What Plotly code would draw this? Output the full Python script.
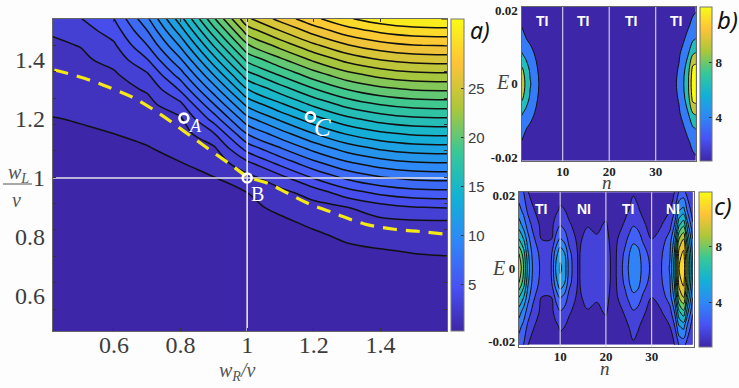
import numpy as np
import plotly.graph_objects as go

W, H = 739, 388
PARULA = [[0, "rgb(62,38,168)"], [1/7, "rgb(72,82,244)"], [2/7, "rgb(46,135,247)"], [3/7, "rgb(18,177,214)"],
          [4/7, "rgb(55,200,151)"], [5/7, "rgb(171,199,57)"], [6/7, "rgb(254,195,56)"], [1, "rgb(249,251,21)"]]

# panel a
wR = [0.417, 0.5, 0.6, 0.7, 0.8, 0.9, 1.0, 1.1, 1.2, 1.3, 1.4, 1.5, 1.6]
wL = [0.48, 0.6, 0.7, 0.75, 0.8, 0.85, 0.9, 0.95, 1.0, 1.05, 1.1, 1.15, 1.2, 1.25, 1.3, 1.35, 1.4, 1.45, 1.5, 1.54]
a_0417 = [.35,.4,.42,.45,.48,.52,.55,.6,.65,.72,.8,.88,.97,1.2,1.42,1.65,1.88,2.1,2.45,2.8]
a_0500 = [.38,.42,.45,.48,.5,.55,.6,.65,.7,.78,.85,.9,1.05,1.3,1.55,1.8,2.05,2.35,3,3.55]
a_0600 = [.38,.42,.45,.48,.52,.58,.62,.68,.75,.82,.9,1,1.25,1.5,1.8,2.1,2.7,3.4,4.2,4.9]
a_0700 = [.4,.43,.46,.5,.55,.6,.66,.72,.8,.88,.95,1.2,1.55,1.9,2.45,3.4,4.8,6.2,7.5,8.55]
a_0800 = [.4,.45,.5,.55,.6,.66,.72,.8,.88,.97,1.25,1.65,2.1,3.3,5.1,6.85,8.6,10.35,12.1,13.5]
a_0900 = [.4,.45,.5,.55,.6,.65,.72,.82,.95,1.45,2.05,3.5,5.48,7.47,9.46,11.45,13.44,15.43,17.42,19.02]
a_1000 = [.4,.45,.5,.55,.6,.68,.78,1,1.84,3.28,5.41,7.54,9.67,11.8,13.93,16.06,18.19,20.32,22.45,24.15]
a_1100 = [.4,.45,.5,.55,.65,.82,1.2,1.9,3.15,5.28,7.41,9.54,11.67,13.8,15.93,18.06,20.19,22.32,24.45,26.15]
a_1200 = [.4,.42,.5,.58,.8,1.2,1.82,2.85,4.98,7.11,9.24,11.37,13.5,15.63,17.76,19.89,22.02,24.15,26.28,27.98]
a_1300 = [.4,.42,.55,.78,1.15,1.72,2.27,4.3,6.43,8.56,10.69,12.82,14.95,17.08,19.21,21.34,23.47,25.6,27.73,29.43]
a_1400 = [.4,.42,.62,.9,1.42,1.95,3.07,5.2,7.33,9.46,11.59,13.72,15.85,17.98,20.11,22.24,24.37,26.5,28.63,30.33]
a_1500 = [.4,.42,.65,1.05,1.55,2.08,3.54,5.67,7.8,9.93,12.06,14.19,16.32,18.45,20.58,22.71,24.84,26.97,29.1,30.8]
a_1600 = [.4,.42,.68,1.13,1.6,2.12,3.66,5.79,7.92,10.05,12.18,14.31,16.44,18.57,20.7,22.83,24.96,27.09,29.22,30.92]
a_columns = [a_0417,a_0500,a_0600,a_0700,a_0800,a_0900,a_1000,a_1100,a_1200,a_1300,a_1400,a_1500,a_1600]
dash_wR = [.421,.511,.592,.662,.742,.812,.882,.952,1.002,1.062,1.122,1.182,1.262,1.352,1.442,1.523,1.6]
dash_wL = [1.366,1.338,1.304,1.27,1.214,1.157,1.10,1.044,1.004,.982,.948,.914,.88,.844,.826,.818,.809]
point_wR = [.81, 1.0, 1.19]
point_wL = [1.203, 1.0, 1.207]
a_x_ticks = [.6, .8, 1, 1.2, 1.4]
a_y_labels = [.6, .8, 1, 1.2, 1.4]
a_bar_ticks = [5, 10, 15, 20, 25]

# panel b: half grid in |E|, mirrored about E = 0
E_half = [0, .004, .008, .012, .016, .021]
b_n = [1,2,3,4,5,6,8,12,20,30,33,34,35,36,37,38,39]
b_col = [
 [10,8.8,5.6,3.6,2.05,1],[7.7,7,4.2,2.2,1.3,.9],[5.3,4.4,2.9,1.6,1,.9],[3.3,2.8,1.95,1.1,.9,.9],
 [1.8,1.5,1.2,.95,.9,.9],[1.1,1,.95,.9,.9,.9],[.9,.9,.9,.9,.9,.9],[.9,.9,.9,.9,.9,.9],[.9,.9,.9,.9,.9,.9],
 [.9,.9,.9,.9,.9,.9],[.9,.9,.9,.9,.9,.9],[1.6,1.4,1.1,.9,.9,.9],[2.5,2.2,1.7,1.2,.9,.9],[4.9,4.3,3,1.8,1.1,.9],
 [7.7,7,5,3,1.7,1],[13,12,8,4.8,2.7,1.3],[13.5,12.5,8.5,5.5,3.2,1.7]]

# panel c
c_n = [1,2,3,4,6,8,9,10,11,12,14,16,18,20,21,22,24,25,26,27,28,30,32,34,35,36,37,38,39]
c_col = [
 [9.5,8.5,6.5,5,3.8,3],[7.5,7,5.5,4,3.2,2.5],[5,4.6,3.8,3,2.2,1.5],[3.4,3.2,2.8,2.2,1.6,1.2],
 [2.2,2.1,1.45,1.2,1.05,.95],[2.4,2.2,1.45,1.2,1.05,.95],[4.5,4,2.7,1.8,1.3,1.1],[5.7,5.2,3.6,2.4,1.6,1.2],
 [5,4.5,3.1,2.1,1.5,1.1],[3,2.8,2.1,1.6,1.2,1],[1.35,1.35,1.25,1.1,.95,.9],[2.3,2.25,1.9,1.4,1.05,.9],
 [2.3,2.25,1.6,1.3,1.05,.9],[2.2,2.2,1.9,1.6,1.2,.95],[1.5,1.45,1.3,1.2,1,.9],[1.3,1.3,1.25,1.15,1.1,1],
 [2.8,2.6,2.1,1.55,1.2,1],[3.6,3.4,2.7,2,1.5,1.2],[4.4,4.1,3.2,2.4,1.8,1.4],[4.2,3.9,3,2.2,1.6,1.2],
 [3.2,3,2.4,1.7,1.3,1],[2.3,2.1,1.5,1.1,1,.9],[2.4,2.3,1.9,1.4,1.1,.9],[3.6,3.4,3,2.1,1.5,1.1],
 [6,5.6,4.8,3.5,2.4,1.5],[10.5,10,8.5,6.3,4.4,2.6],[11.3,10.8,9.5,7.2,4.8,2.8],[7.5,7.2,6,4.5,3,2],
 [4.5,4.2,3.5,2.6,2,1.5]]
small_x_ticks = [10, 20, 30]
small_y_ticks = [-.02, 0, .02]
small_bar_ticks = [4, 8]
b_labels = ["TI", "TI", "TI", "TI"]
b_label_n = [5.5, 14.4, 24.7, 34.4]
c_labels = ["TI", "NI", "TI", "NI"]
c_label_n = [5.8, 15.2, 24.8, 34.6]

def mirror(cols):
    m = np.array(cols, dtype=float).T
    return np.vstack([m[::-1], m[1:]])

E_full = [-e for e in E_half[::-1]] + E_half[1:]
INK = "#3c3c3c"
SERIF = "Liberation Serif"
fig = go.Figure()

def px_x(a, b): return [a / W, b / W]
def px_y(a, b): return [1 - b / H, 1 - a / H]

def contour(x, y, z, xa, ya, start, size, end, zmin, zmax, lw):
    fig.add_trace(go.Contour(x=x, y=y, z=z, xaxis=xa, yaxis=ya, colorscale=PARULA, zauto=False, zmin=zmin, zmax=zmax,
        autocontour=False, contours=dict(start=start, size=size, end=end, coloring="fill", showlines=True),
        line=dict(color="#111", width=lw, smoothing=1), showscale=False, hoverinfo="skip"))

def bar(xpx, ypx, w, cmin, cmax, ticks, fs, xa, ya, xv, yv):
    fig.add_trace(go.Scatter(x=[xv], y=[yv], xaxis=xa, yaxis=ya, mode="markers", hoverinfo="skip", showlegend=False,
        marker=dict(size=1, opacity=0, color=[cmin], cmin=cmin, cmax=cmax, colorscale=PARULA, showscale=True,
            colorbar=dict(x=xpx / W, xanchor="left", xpad=0, ypad=0, thickness=w, thicknessmode="pixels",
                y=1 - (ypx[0] + ypx[1]) / 2 / H, yanchor="middle", lenmode="fraction", len=(ypx[1] - ypx[0]) / H,
                tickvals=ticks, ticks="inside", ticklen=3, tickcolor="#333", outlinecolor="#777", outlinewidth=1,
                tickfont=fs))))

# panel a
contour(wR, wL, np.array(a_columns).T, "x", "y", 1.0, 1.3, 32, .3, 32.1, 1.5)
for xs, ys in (([1, 1], [.481, 1.539]), ([.417, 1.6], [1, 1])):
    fig.add_trace(go.Scatter(x=xs, y=ys, mode="lines", line=dict(color="#e4e4ee", width=1.6), showlegend=False, hoverinfo="skip"))
fig.add_trace(go.Scatter(x=dash_wR, y=dash_wL, mode="lines", line=dict(color="#f4e815", width=3.2, dash="14px,9px", shape="spline"),
                         showlegend=False, hoverinfo="skip"))
fig.add_trace(go.Scatter(x=point_wR, y=point_wL, mode="markers", showlegend=False, hoverinfo="skip",
                         marker=dict(symbol="circle-open", size=9, color="white", line=dict(width=2.6, color="white"))))
fig.add_trace(go.Scatter(x=[.417, 1.6], y=[1, 1], xaxis="x", yaxis="y4", mode="markers", marker=dict(size=1, opacity=0),
                         showlegend=False, hoverinfo="skip"))
bar(451, (19, 331), 13, .3, 32.1, a_bar_ticks, dict(family="Liberation Sans", size=15, color=INK), "x", "y", 1, 1)

# panel b
contour(b_n, E_full, mirror(b_col), "x2", "y2", 2, 3, 11, .8, 12, 1)
bar(700, (7, 161), 12, .8, 12, small_bar_ticks, dict(family=SERIF, size=13, color="#222", weight="bold"), "x2", "y2", 20, 0)
# panel c
contour(c_n, E_full, mirror(c_col), "x3", "y3", 1.5, 1, 11.5, .86, 11.9, 1)
bar(699, (192, 346.7), 12.5, .86, 11.9, small_bar_ticks, dict(family=SERIF, size=13, color="#222", weight="bold"), "x3", "y3", 20, 0)
for xa, ya in (("x2", "y2"), ("x3", "y3")):
    for n in small_x_ticks:
        fig.add_trace(go.Scatter(x=[n, n], y=[-.0215, .0215], xaxis=xa, yaxis=ya, mode="lines", showlegend=False,
                                 hoverinfo="skip", line=dict(color="#d8d8e4", width=1.1)))

big = dict(family=SERIF, size=24, color=INK)
small = dict(family=SERIF, size=13, color="#222", weight="bold")
axis_line = dict(showline=True, linecolor="#666", linewidth=1.2, mirror=True, showgrid=False, zeroline=False)
fig.update_layout(
    width=W, height=H, autosize=False, margin=dict(l=0, r=0, t=0, b=0, autoexpand=False), paper_bgcolor="#fdfdfd", plot_bgcolor="#fdfdfd",
    showlegend=False,
    xaxis=dict(domain=px_x(53, 447), range=[.417, 1.6], tickvals=a_x_ticks, ticktext=["0.6", "0.8", "1", "1.2", "1.4"],
               ticks="inside", ticklen=3, tickcolor="#333", tickfont=big, anchor="y", automargin=False, ticklabelstandoff=-8, **{**axis_line, "mirror": "ticks"}),
    yaxis=dict(domain=px_y(19, 331), range=[.481, 1.539], tickvals=a_y_labels, ticktext=["0.6", "0.8", "1", "1.2", "1.4"],
               ticks="", tickfont=big, anchor="x", ticklabelstandoff=2, automargin=False, **axis_line),
    yaxis4=dict(overlaying="y", domain=px_y(19, 331), range=[.417, 1.6], dtick=.1, tick0=.5, showticklabels=False,
                ticks="inside", ticklen=3, tickcolor="#333", anchor="x", mirror="ticks", showgrid=False, zeroline=False),
    xaxis2=dict(domain=px_x(521.5, 695.7), range=[1.14, 38.6], tickvals=small_x_ticks, ticks="", tickfont=small, anchor="y2", ticklabelstandoff=-2, **axis_line),
    yaxis2=dict(domain=px_y(7, 161), range=[-.0211, .021], tickvals=small_y_ticks, ticktext=["-0.02", "0", "0.02"], ticks="", tickfont=small, anchor="x2", **axis_line),
    xaxis3=dict(domain=px_x(519, 693.7), range=[1, 39.2], tickvals=small_x_ticks, ticks="", tickfont=small, anchor="y3", ticklabelstandoff=-2, **axis_line),
    yaxis3=dict(domain=px_y(192.3, 346.7), range=[-.0215, .0208], tickvals=small_y_ticks, ticktext=["-0.02", "0", "0.02"], ticks="", tickfont=small, anchor="x3", **axis_line),
)

def note(text, xpx, ypx, font):
    fig.add_annotation(text=text, xref="paper", yref="paper", x=xpx / W, y=1 - ypx / H, showarrow=False, font=font, xanchor="center", yanchor="middle")

serif_i = lambda s, c=INK: dict(family=SERIF, size=s, color=c)
note("<i>w<sub>L</sub></i>", 18, 174, serif_i(20, "#555"))
note("<i>v</i>", 16, 200, serif_i(20, "#555"))
note("<i>w<sub>R</sub>/v</i>", 237, 371, serif_i(20, "#555"))
fig.add_shape(type="line", xref="paper", yref="paper", x0=3 / W, x1=32 / W, y0=1 - 184 / H, y1=1 - 184 / H, line=dict(color="#555", width=1))
note("<i>A</i>", 195, 126, serif_i(18, "white"))
note("B", 257, 194, serif_i(20, "white"))
note("<i>C</i>", 322, 128, serif_i(25, "white"))
note("<i>a)</i>", 480, 30, dict(family="Noto Sans", size=23, color="#111"))
note("<i>b)</i>", 727, 19, dict(family="Noto Sans", size=24, color="#111"))
note("<i>c)</i>", 723, 205, dict(family="Noto Sans", size=24, color="#111"))
note("<i>E</i>", 502, 82, serif_i(20, "#444"))
note("<i>E</i>", 498, 268, serif_i(20, "#444"))
note("<i>n</i>", 607, 182, serif_i(19, "#444"))
note("<i>n</i>", 605, 368, serif_i(19, "#444"))
white_bold = dict(family="Liberation Sans", size=14, color="white", weight="bold")
for t, n in zip(b_labels, b_label_n):
    fig.add_annotation(text=t, xref="x2", yref="y2", x=n, y=.0172, showarrow=False, font=white_bold)
for t, n in zip(c_labels, c_label_n):
    fig.add_annotation(text=t, xref="x3", yref="y3", x=n, y=.0162, showarrow=False, font=white_bold)

fig.write_html("out.html", config=dict(displayModeBar=False), post_script="document.body.style.margin='0';document.documentElement.style.overflow='hidden';")
